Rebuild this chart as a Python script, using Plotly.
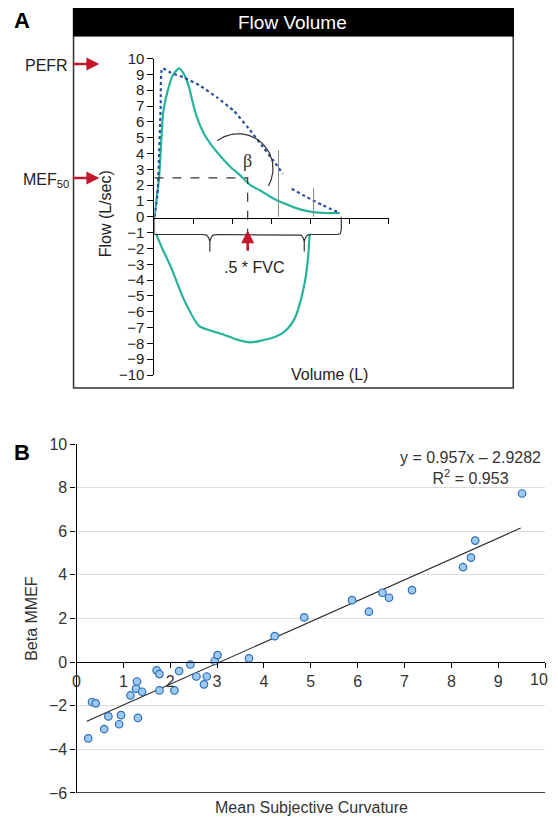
import plotly.graph_objects as go
import numpy as np

# ---------------- Panel A data ----------------
exp_volume = [0, 0.05, 0.12, 0.17, 0.23, 0.34, 0.46, 0.63, 0.76, 0.89, 0.97, 1.08, 1.26, 1.5,
              1.72, 1.95, 2.2, 2.46, 2.71, 2.95, 3.15, 3.35, 3.56, 3.8, 4.07, 4.4, 4.75]
exp_flow = [0, 1.0, 2.5, 4.6, 6.7, 7.96, 8.9, 9.38, 9.0, 8.16, 7.33, 6.35, 5.3, 4.4,
            3.75, 3.15, 2.62, 2.0, 1.66, 1.3, 1.03, 0.82, 0.61, 0.42, 0.3, 0.24, 0.24]

insp_volume = [0.04, 0.2, 0.42, 0.76, 1.14, 1.45, 1.78, 2.1, 2.46, 3.01, 3.25, 3.43, 3.58, 3.68, 3.85, 3.94, 3.98]
insp_flow = [-1.06, -2.0, -3.16, -5.25, -6.89, -7.2, -7.45, -7.75, -7.94, -7.66, -7.4, -7.03, -6.5, -5.88, -4.2, -2.53, -1.06]

pred1_volume = [0, 0.08, 0.12, 0.16, 0.2, 0.42, 0.76, 1.18, 1.61, 2.03, 2.41, 2.79, 3.05, 3.29]
pred1_flow = [0, 1.5, 4.0, 7.0, 9.38, 9.1, 8.8, 8.27, 7.53, 6.7, 5.6, 4.39, 3.55, 2.72]
pred2_volume = [3.52, 3.9, 4.32, 4.75]
pred2_flow = [1.77, 1.25, 0.72, 0.24]

gray_volume = [3.18, 4.08]
gray_flow_top = [4.21, 1.83]

mef50_flow = 2.46
mef50_volume = 2.39
brace_cusps = [1.42, 3.84]
brace_level = -1.12
fvc_end = 4.79
arc_center = (2.15, 3.05)
arc_radius = (0.89, 2.2)

ya_ticks = list(range(-10, 11))
xa_ticks = [1, 2, 3, 4, 5, 6]

# ---------------- Panel B data ----------------
curvature = [0.25, 0.33, 0.41, 0.59, 0.68, 0.91, 0.95, 1.15, 1.27, 1.29, 1.31, 1.40, 1.71, 1.77,
             1.77, 2.09, 2.19, 2.43, 2.56, 2.72, 2.78, 2.95, 3.01, 3.68, 4.23, 4.86, 5.88, 6.24,
             6.53, 6.67, 7.16, 8.25, 8.42, 8.51, 9.51]
beta_mmef = [-3.50, -1.83, -1.89, -3.07, -2.49, -2.85, -2.43, -1.53, -1.22, -0.89, -2.56, -1.36,
             -0.38, -0.55, -1.30, -1.30, -0.41, -0.11, -0.66, -1.02, -0.66, 0.05, 0.32, 0.17,
             1.19, 2.05, 2.84, 2.31, 3.18, 2.95, 3.30, 4.35, 4.79, 5.57, 7.73]
fit_slope = 0.957
fit_intercept = -2.9282
fit_range = [0.22, 9.48]
xb_ticks = list(range(0, 11))
xb_labels = [str(v) for v in xb_ticks]
yb_ticks = [-6, -4, -2, 0, 2, 4, 6, 8, 10]

# figure size / placement calibrated against the photographed page
W, H = 542, 812
X_OFF = 10
Y_OFF, Y_SCALE = 8.1, 0.978
def px(x):
    return (x - X_OFF) / W
def py(y):
    return 1 - ((y - Y_OFF) / Y_SCALE - 8) / H

FONT = "Liberation Sans, Arial, Helvetica, sans-serif"
GREEN = "#27b39b"
BLUE = "#27509c"
RED = "#c3172b"
DARK = "#222222"

fig = go.Figure()

def add_line(x, y, **line):
    fig.add_trace(go.Scatter(x=x, y=y, mode="lines", line=line, xaxis="x", yaxis="y",
                             showlegend=False, hoverinfo="skip"))

# Panel A traces
add_line(exp_volume, exp_flow, color=GREEN, width=2.2, shape="spline", smoothing=0.6)
add_line(insp_volume, insp_flow, color=GREEN, width=2.2, shape="spline", smoothing=0.6)
add_line(pred1_volume, pred1_flow, color=BLUE, width=2.2, dash="dot", shape="spline", smoothing=0.5)
add_line(pred2_volume, pred2_flow, color=BLUE, width=2.2, dash="dot", shape="spline", smoothing=0.5)
for gv, gf in zip(gray_volume, gray_flow_top):
    add_line([gv, gv], [0, gf], color="#8a8a8a", width=1)
add_line([0, mef50_volume, mef50_volume], [mef50_flow, mef50_flow, -0.9], color="#333333", width=1.2, dash="dash")
th = np.radians(np.linspace(127, -30, 60))
add_line(arc_center[0] + arc_radius[0] * np.cos(th), arc_center[1] + arc_radius[1] * np.sin(th),
         color="#333333", width=1.2)
bx, by = [0, 0], [0, brace_level]
for c in brace_cusps:
    bx += [c - 0.2, c - 0.08, c - 0.03, c, c, c, c + 0.03, c + 0.08, c + 0.2]
    by += [brace_level, brace_level - 0.04, brace_level - 0.2, brace_level - 0.45, -2.2,
           brace_level - 0.45, brace_level - 0.2, brace_level - 0.04, brace_level]
bx += [fvc_end - 0.1, fvc_end - 0.03, fvc_end, fvc_end]
by += [brace_level, brace_level + 0.05, brace_level + 0.3, 0]
add_line(bx, by, color="#333333", width=1.2)

# Panel B traces
fig.add_trace(go.Scatter(x=fit_range, y=[fit_slope * v + fit_intercept for v in fit_range], mode="lines",
                         line=dict(color="#222222", width=1.1), xaxis="x2", yaxis="y2", showlegend=False, hoverinfo="skip"))
fig.add_trace(go.Scatter(x=curvature, y=beta_mmef, mode="markers",
                         marker=dict(size=7.5, color="#9ccaf2", line=dict(color="#2f6db5", width=1.2)),
                         xaxis="x2", yaxis="y2", showlegend=False, hoverinfo="skip", cliponaxis=False))

def note(text, x, y, size=16, color=DARK, **kw):
    d = dict(text=text, x=px(x), y=py(y), xref="paper", yref="paper", showarrow=False,
             xanchor=kw.pop("xanchor", "center"), yanchor=kw.pop("yanchor", "middle"),
             font=dict(family=kw.pop("family", FONT), size=size, color=color))
    d.update(kw)
    return d

def red_arrow(x, y, ax, ay, xref="paper", yref="paper"):
    return dict(text="", x=x, y=y, xref=xref, yref=yref, ax=ax, ay=ay, showarrow=True,
                arrowhead=2, arrowsize=1, arrowwidth=2.6, arrowcolor=RED)

# last x tick label sits at the page edge: drawn as a right-anchored note so it stays inside the page
last_label = dict(text=xb_labels[-1], x=1.0, y=py(679), xref="paper", yref="paper", showarrow=False,
                  xanchor="right", yanchor="middle", font=dict(family=FONT, size=16, color="#333333"))

fig.update_layout(
    width=W, height=H, margin=dict(l=0, r=0, t=0, b=0),
    paper_bgcolor="white", plot_bgcolor="white",
    font=dict(family=FONT, size=15, color=DARK),
    xaxis=dict(domain=[px(153.5), px(389.3)], range=[0, 6], anchor="free", position=py(216.5),
               showline=True, linecolor="black", linewidth=1.2, ticks="outside", ticklen=5, tickcolor="black",
               tickvals=xa_ticks, showticklabels=False, showgrid=False, zeroline=False),
    yaxis=dict(domain=[py(374), py(57.5)], range=[-10, 10], anchor="x",
               showline=True, linecolor="black", linewidth=1.2, ticks="outside", ticklen=6, tickcolor="black",
               tickvals=ya_ticks, tickfont=dict(family=FONT, size=15, color=DARK),
               showgrid=False, zeroline=False),
    xaxis2=dict(domain=[px(75), px(547)], range=[0, 10], anchor="free", position=py(661),
                showline=True, linecolor="black", linewidth=1.2, ticks="outside", ticklen=5, tickcolor="black",
                tickvals=xb_ticks, ticktext=xb_labels[:-1] + [""],
                tickfont=dict(family=FONT, size=16, color="#333333"), showgrid=False, zeroline=False),
    yaxis2=dict(domain=[py(792), py(443)], range=[-6, 10], anchor="x2",
                showline=True, linecolor="black", linewidth=1.2, ticks="outside", ticklen=5, tickcolor="black",
                tickvals=yb_ticks, tickfont=dict(family=FONT, size=16, color="#333333"),
                showgrid=True, gridcolor="#dcdcdc", gridwidth=1, zeroline=False),
    shapes=[
        dict(type="rect", xref="paper", yref="paper", x0=px(72), x1=px(515), y0=py(387), y1=py(5),
             line=dict(color="#333333", width=1.5), fillcolor="rgba(0,0,0,0)", layer="below"),
        dict(type="rect", xref="paper", yref="paper", x0=px(72), x1=px(515), y0=py(35), y1=py(5),
             line=dict(color="black", width=1), fillcolor="black"),
        dict(type="line", xref="x2 domain", yref="y2", x0=0, x1=1, y0=-6, y1=-6,
             line=dict(color="black", width=1.3)),
    ],
    annotations=[
        note("<b>A</b>", 10, 19, size=22, color="black", xanchor="left"),
        note("<b>B</b>", 10, 451, size=22, color="black", xanchor="left"),
        note("Flow Volume", 293, 21, size=19, color="white"),
        note("PEFR", 68, 64, xanchor="right"),
        red_arrow(px(98), py(63), -28, 0),
        note("MEF<sub>50</sub>", 69, 179, xanchor="right"),
        red_arrow(px(98), py(177), -28, 0),
        note("Flow (L/sec)", 104, 213, textangle=-90),
        note("β", 247, 160, size=18, color="#333333", family="Liberation Serif, serif"),
        red_arrow(mef50_volume, -0.85, 0, 22, xref="x", yref="y"),
        note(".5 * FVC", 254, 266),
        note("Volume (L)", 330, 373),
        note("y = 0.957x – 2.9282<br>R<sup>2</sup> = 0.953", 472, 467, size=16, color="#333333", align="center"),
        note("Beta MMEF", 30, 617, color="#333333", textangle=-90),
        note("Mean Subjective Curvature", 312, 807, color="#333333"),
        last_label,
    ],
)

fig.write_html("out.html")
